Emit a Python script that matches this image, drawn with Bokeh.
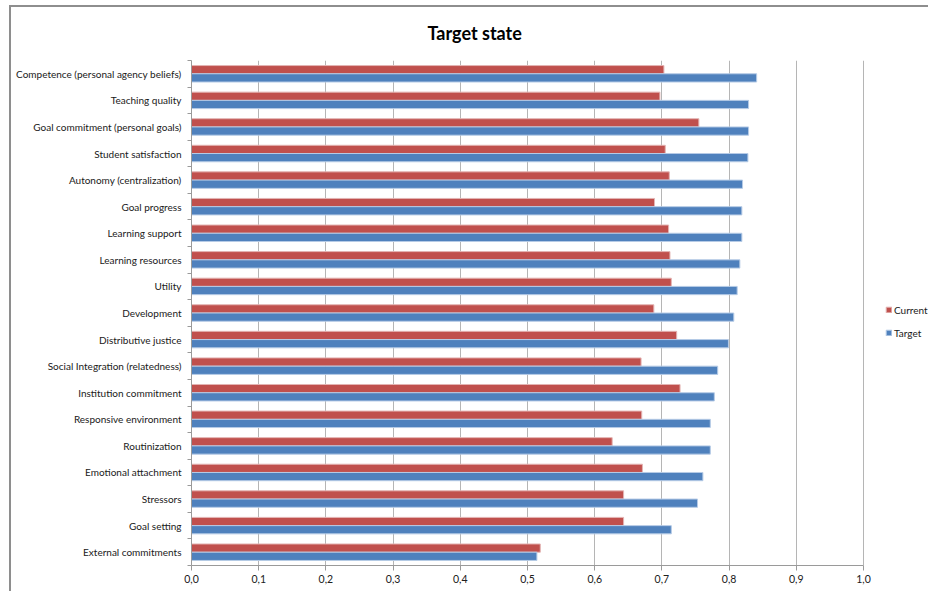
from bokeh.plotting import figure
from bokeh.models import (ColumnDataSource, Range1d, LinearAxis,
                          FixedTicker, Legend, LegendItem)
from bokeh.embed import file_html
from bokeh.resources import INLINE

# Scale items, listed top to bottom
categories = [
    "Competence (personal agency beliefs)",
    "Teaching quality",
    "Goal commitment (personal goals)",
    "Student satisfaction",
    "Autonomy (centralization)",
    "Goal progress",
    "Learning support",
    "Learning resources",
    "Utility",
    "Development",
    "Distributive justice",
    "Social Integration (relatedness)",
    "Institution commitment",
    "Responsive environment",
    "Routinization",
    "Emotional attachment",
    "Stressors",
    "Goal setting",
    "External commitments",
]
current = [0.703, 0.697, 0.755, 0.705, 0.711, 0.689, 0.710, 0.712, 0.714, 0.688,
           0.722, 0.669, 0.727, 0.670, 0.626, 0.671, 0.643, 0.643, 0.519]
target = [0.841, 0.829, 0.829, 0.828, 0.820, 0.819, 0.819, 0.816, 0.812, 0.807,
          0.799, 0.783, 0.778, 0.772, 0.772, 0.761, 0.753, 0.714, 0.514]
series_names = ["Current", "Target"]
x_ticks = [0.0, 0.1, 0.2, 0.3, 0.4, 0.5, 0.6, 0.7, 0.8, 0.9, 1.0]
x_tick_labels = ["0,0", "0,1", "0,2", "0,3", "0,4", "0,5",
                 "0,6", "0,7", "0,8", "0,9", "1,0"]

FONT = "Lato"
RED = "#C0504D"
BLUE = "#4F81BD"
GRID = "#B5B5B5"
AXIS = "#9A9A9A"
TEXT = "#202020"
BAR_H = 0.31

# one band per item; first item sits in the top band
n = len(categories)
band_centers = [n - 0.5 - i for i in range(n)]

source = ColumnDataSource(dict(
    cat=categories, current=current, target=target,
    y_cur=[c + BAR_H / 2 for c in band_centers],
    y_tgt=[c - BAR_H / 2 for c in band_centers],
))

# the frame runs on to the right edge so the legend can sit beside the
# 0..1 value scale; the axis itself stops at 1.0
FIG_W, LEFT_W = 919, 180
SCALE_PX = 672  # pixels spanned by the 0..1 scale
x_end = (FIG_W - LEFT_W) / SCALE_PX

p = figure(width=FIG_W, height=586, y_range=Range1d(0, n),
           x_range=Range1d(0, x_end),
           output_backend="svg", toolbar_location=None,
           y_axis_location=None,
           min_border_left=LEFT_W, min_border_right=0,
           min_border_top=53, min_border_bottom=28)
p.margin = (5, 0, 0, 9)
p.styles = {"border-top": "2px solid #8E8E8E", "border-left": "2px solid #8E8E8E"}
p.outline_line_color = None
p.background_fill_color = "white"
p.border_fill_color = "white"

# title centred over the whole chart rather than the plot frame
p.title.text = "Target state"
p.title.align = "left"
p.title.offset = 236
p.title.vertical_align = "top"
p.title.text_font = FONT
p.title.text_font_size = "18px"
p.title.text_font_style = "bold"
p.title.text_color = "#000000"
p.title.standoff = 29

r_cur = p.hbar(y="y_cur", right="current", left=0, height=BAR_H, source=source,
               fill_color=RED, line_color="#E3B4B3", line_width=1)
r_tgt = p.hbar(y="y_tgt", right="target", left=0, height=BAR_H, source=source,
               fill_color=BLUE, line_color="#B6CBE6", line_width=1)

# x axis with comma decimals
xa = p.xaxis[0]
xa.bounds = (x_ticks[0], x_ticks[-1])
xa.ticker = FixedTicker(ticks=x_ticks)
xa.major_label_overrides = dict(zip(x_ticks, x_tick_labels))
xa.axis_line_color = AXIS
xa.major_tick_line_color = AXIS
xa.major_tick_out = 5
xa.major_tick_in = 0
xa.minor_tick_line_color = None
xa.major_label_text_font = FONT
xa.major_label_text_font_size = "10.5px"
xa.major_label_text_color = TEXT
xa.major_label_standoff = 4

p.xgrid.ticker = FixedTicker(ticks=x_ticks)
p.xgrid.grid_line_color = GRID
p.ygrid.grid_line_color = None

# tick marks between the bands, next to the frame
band_edges = list(range(n + 1))
band_axis = LinearAxis(ticker=FixedTicker(ticks=band_edges),
                       major_label_overrides={e: "" for e in band_edges},
                       major_label_standoff=0,
                       axis_line_color=AXIS,
                       major_tick_line_color=AXIS,
                       major_tick_out=4, major_tick_in=0,
                       minor_tick_line_color=None)
# item names at band centres
label_axis = LinearAxis(ticker=FixedTicker(ticks=band_centers),
                        major_label_overrides=dict(zip(band_centers, categories)),
                        axis_line_color=None, major_tick_line_color=None,
                        minor_tick_line_color=None,
                        major_tick_out=0, major_tick_in=0,
                        major_label_standoff=6,
                        major_label_text_font=FONT,
                        major_label_text_font_size="10px",
                        major_label_text_color=TEXT)
p.left = [band_axis, label_axis]

legend = Legend(items=[LegendItem(label=series_names[0], renderers=[r_cur]),
                       LegendItem(label=series_names[1], renderers=[r_tgt])],
                location=(694, 226), orientation="vertical",
                glyph_width=7, glyph_height=7, label_standoff=2,
                spacing=10, padding=0, margin=0,
                border_line_color=None, background_fill_alpha=0,
                label_text_font=FONT, label_text_font_size="10px",
                label_text_color=TEXT, label_height=13)
p.add_layout(legend, "center")

open("out.html", "w").write(file_html(p, INLINE))
